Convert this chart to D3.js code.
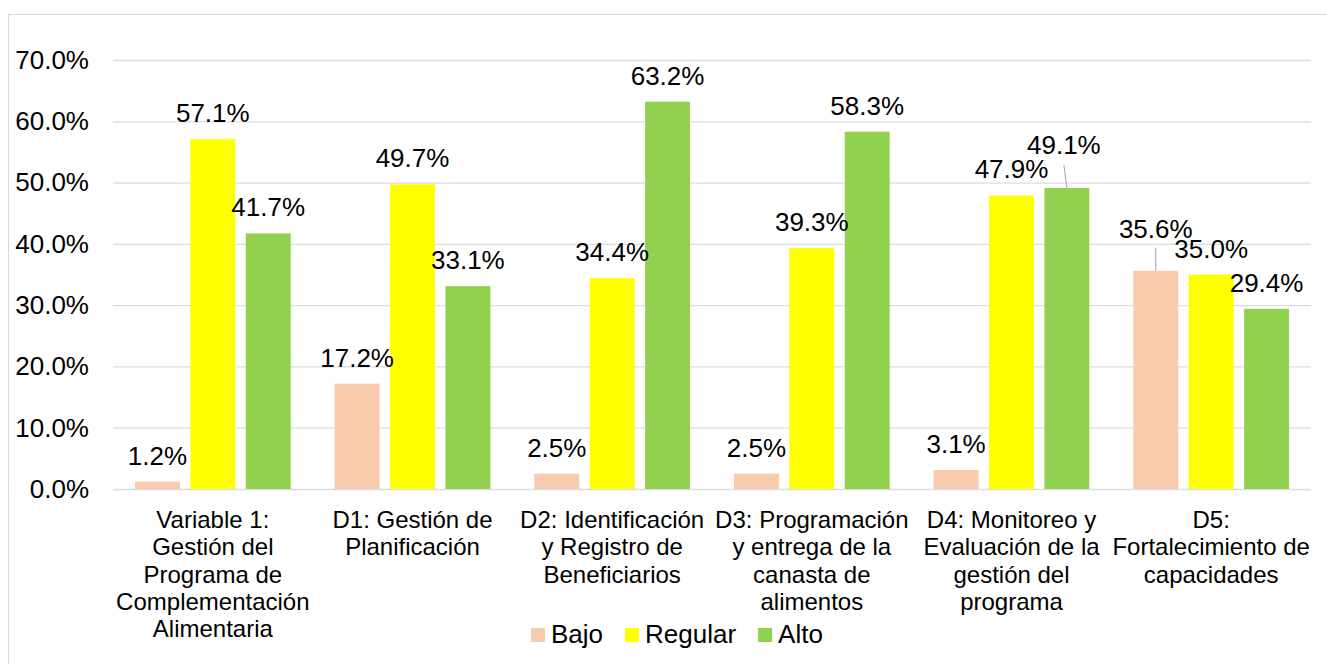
<!DOCTYPE html>
<html>
<head>
<meta charset="utf-8">
<script src="https://cdn.jsdelivr.net/npm/d3@7"></script>
<style>
  body { margin:0; background:#fff; }
  text { font-family: "Liberation Sans", Arial, sans-serif; fill:#000; }
</style>
</head>
<body>
<div id="chart"></div>
<script>
// categories (tick labels already split in lines like the original)
let categories = [
  ["Variable 1:", "Gestión del", "Programa de", "Complementación", "Alimentaria"],
  ["D1: Gestión de", "Planificación"],
  ["D2: Identificación", "y Registro de", "Beneficiarios"],
  ["D3: Programación", "y entrega de la", "canasta de", "alimentos"],
  ["D4: Monitoreo y", "Evaluación de la", "gestión del", "programa"],
  ["D5:", "Fortalecimiento de", "capacidades"]
]
let seriesNames = ["Bajo", "Regular", "Alto"]
let bajo    = [1.2, 17.2, 2.5, 2.5, 3.1, 35.6]
let regular = [57.1, 49.7, 34.4, 39.3, 47.9, 35.0]
let alto    = [41.7, 33.1, 63.2, 58.3, 49.1, 29.4]
let yTicks  = [0, 10, 20, 30, 40, 50, 60, 70]

let colors = { Bajo:"#F8CBAD", Regular:"#FFFF00", Alto:"#92D050" }
// labels that were dragged up in the original (with leader line)
let labelNudge = { "4-Alto": { dx:-3, dy:-17 }, "5-Bajo": { dx:0, dy:-16 } }

let width = 1327, height = 664
let margin = { top:60, left:113, right:16, bottom:175 }

let svg = d3.select("#chart").append("svg")
  .attr("width", width)
  .attr("height", height)

// chart frame (runs off the right / bottom edge like the screenshot)
svg.append("rect")
  .attr("x", 8.5).attr("y", 14.5)
  .attr("width", width + 20).attr("height", height + 20)
  .attr("fill", "none").attr("stroke", "#D9D9D9")

let x0 = d3.scaleBand()
  .domain(d3.range(categories.length))
  .range([margin.left, width - margin.right])
let x1 = d3.scaleBand()
  .domain(seriesNames)
  .range([22, x0.bandwidth() - 22])
  .paddingInner(0.19)
let y = d3.scaleLinear()
  .domain([0, 70])
  .range([height - margin.bottom, margin.top])

let values = { Bajo:bajo, Regular:regular, Alto:alto }
let rows = []
categories.forEach((c, i) => {
  seriesNames.forEach(s => rows.push({ cat:i, series:s, value:values[s][i] }))
})

// gridlines + y labels
let yAxis = d3.axisLeft(y)
  .tickValues(yTicks)
  .tickSize(-(width - margin.right - margin.left))
  .tickPadding(24)
  .tickFormat(d => d.toFixed(1) + "%")
let yGroup = svg.append("g").attr("transform", `translate(${margin.left},0)`).call(yAxis)
yGroup.select(".domain").remove()
yGroup.selectAll(".tick line").attr("stroke", "#D9DDE3").attr("stroke-width", 1.3)
yGroup.selectAll(".tick text")
  .attr("font-size", 26)
  .attr("font-family", "Liberation Sans, Arial, sans-serif")
  .attr("fill", "#000")

// bars
svg.append("g").selectAll("rect")
  .data(rows)
  .enter()
  .append("rect")
  .attr("x", d => x0(d.cat) + x1(d.series))
  .attr("y", d => y(d.value))
  .attr("width", x1.bandwidth())
  .attr("height", d => y(0) - y(d.value))
  .attr("fill", d => colors[d.series])

// data labels
let labels = svg.append("g")
rows.forEach(d => {
  let nudge = labelNudge[d.cat + "-" + d.series] || { dx:0, dy:0 }
  let cx = x0(d.cat) + x1(d.series) + x1.bandwidth() / 2
  let top = y(d.value)
  if (nudge.dy != 0) {
    labels.append("line")
      .attr("x1", cx + nudge.dx).attr("y1", top - 23)
      .attr("x2", cx).attr("y2", top)
      .attr("stroke", "#A6B4C6").attr("stroke-width", 1.2)
  }
  labels.append("text")
    .attr("x", cx + nudge.dx)
    .attr("y", top - 17 + nudge.dy)
    .attr("text-anchor", "middle")
    .attr("font-size", 26)
    .text(d.value.toFixed(1) + "%")
})

// category labels
let catG = svg.append("g")
categories.forEach((lines, i) => {
  let t = catG.append("text")
    .attr("x", x0(i) + x0.bandwidth() / 2)
    .attr("y", 528)
    .attr("text-anchor", "middle")
    .attr("font-size", 24)
  lines.forEach((l, k) => {
    t.append("tspan")
      .attr("x", x0(i) + x0.bandwidth() / 2)
      .attr("y", 528 + k * 27.3)
      .text(l)
  })
})

// legend
let legend = svg.append("g").attr("transform", "translate(531,643)")
let lx = 0
seriesNames.forEach(s => {
  legend.append("rect")
    .attr("x", lx).attr("y", -15)
    .attr("width", 14).attr("height", 14)
    .attr("fill", colors[s])
  let t = legend.append("text")
    .attr("x", lx + 20)
    .attr("y", 0)
    .attr("font-size", 26)
    .text(s)
  lx += 20 + t.node().getComputedTextLength() + 22
})
</script>
</body>
</html>
